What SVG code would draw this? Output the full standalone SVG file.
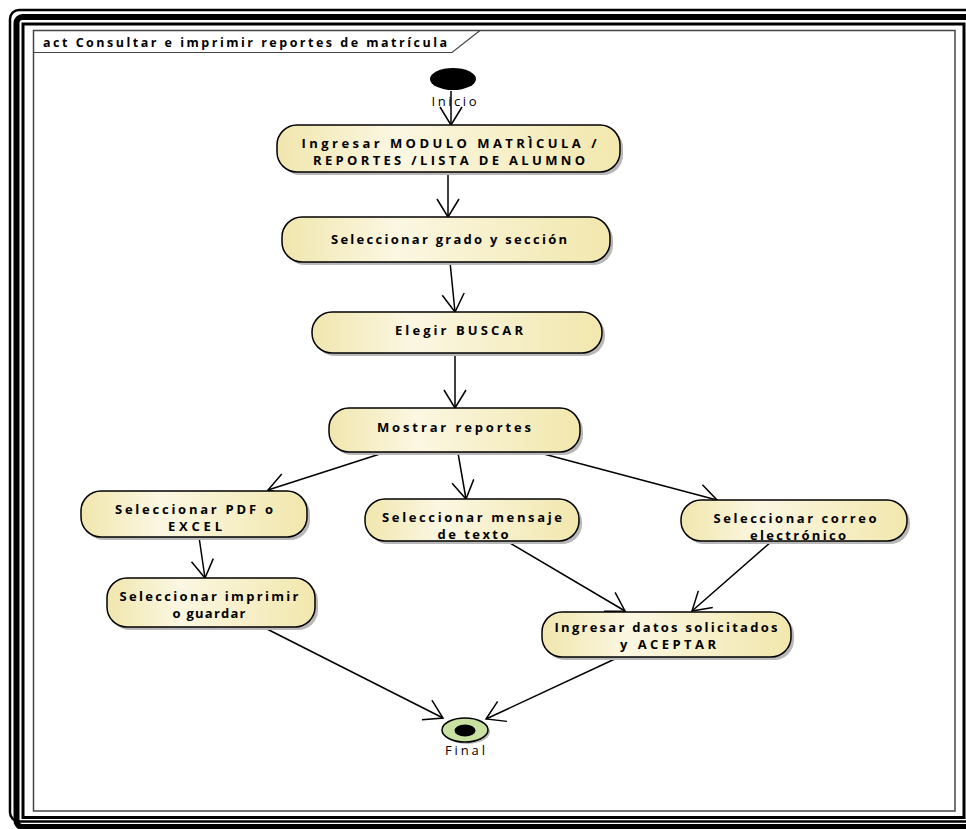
<svg xmlns="http://www.w3.org/2000/svg" width="966" height="829" viewBox="0 0 966 829">
<defs>
<linearGradient id="nodeFill" x1="0" y1="0" x2="1" y2="0">
<stop offset="0" stop-color="#f1e6ae"/>
<stop offset="0.35" stop-color="#fbf7e2"/>
<stop offset="1" stop-color="#f2e7ad"/>
</linearGradient>
<marker id="arrow" viewBox="-20 -13 22 26" markerWidth="22" markerHeight="26" refX="0" refY="0" orient="auto" markerUnits="userSpaceOnUse">
<path d="M-18,-11 L0,0 L-18,11" fill="none" stroke="#000" stroke-width="1.5"/>
</marker>
</defs>
<style>
.node{fill:url(#nodeFill);stroke:#000;stroke-width:1.5}
.shadow{fill:#b8b8b8}
.lbl{font-family:"Open Sans","Liberation Sans",Arial,sans-serif;font-weight:bold;font-size:13px;fill:#000;text-anchor:middle}
.plain{font-family:"Open Sans","Liberation Sans",Arial,sans-serif;font-size:13px;fill:#000;text-anchor:middle}
.edge{stroke:#000;stroke-width:1.5;fill:none;marker-end:url(#arrow)}
</style>
<rect width="966" height="829" fill="#fff"/>
<!-- page border -->
<g id="border" fill="none" stroke="#000">
<rect x="10" y="10" width="990" height="811.5" rx="9" stroke-width="2.5"/>
<rect x="16.5" y="17" width="990" height="810" rx="6" stroke-width="6"/>
<rect x="23" y="24" width="941" height="793.5" stroke-width="3"/>
</g>
<!-- frame -->
<g id="frame">
<rect x="33.5" y="30.5" width="921.5" height="780.5" fill="none" stroke="#444" stroke-width="1.5"/>
<path d="M33.5,52.5 H452 L480,30.5" fill="none" stroke="#444" stroke-width="1.2"/>
<text x="43" y="47" font-family="Open Sans,Liberation Sans,Arial,sans-serif" font-weight="bold" font-size="12.5" textLength="404" lengthAdjust="spacing">act Consultar e imprimir reportes de matrícula</text>
</g>
<!-- connectors -->
<g id="connectors">
<line class="edge" x1="451" y1="91" x2="451" y2="125"/>
<line class="edge" x1="448" y1="172" x2="448" y2="217"/>
<line class="edge" x1="450" y1="262" x2="455" y2="312"/>
<line class="edge" x1="455" y1="353" x2="455" y2="408"/>
<line class="edge" x1="383" y1="453" x2="268" y2="490"/>
<line class="edge" x1="458" y1="453" x2="466" y2="499"/>
<line class="edge" x1="540" y1="453" x2="717" y2="500"/>
<line class="edge" x1="199" y1="537" x2="205" y2="578"/>
<line class="edge" x1="505" y1="540" x2="625" y2="611"/>
<line class="edge" x1="771" y1="542" x2="692" y2="611"/>
<line class="edge" x1="265" y1="628" x2="443" y2="718"/>
<line class="edge" x1="617" y1="658" x2="486" y2="719"/>
</g>
<!-- start -->
<g id="inicio">
<ellipse cx="453" cy="79" rx="23" ry="11" fill="#000"/>
<text class="plain" x="454" y="106" textLength="45" lengthAdjust="spacing">Inicio</text>
</g>
<g id="n1">
<rect class="shadow" x="280" y="128" width="343" height="47" rx="20"/>
<rect class="node" x="277" y="125" width="343" height="47" rx="20"/>
<text class="lbl" x="449" y="148" textLength="295" lengthAdjust="spacing">Ingresar MODULO MATRÌCULA /</text>
<text class="lbl" x="449" y="165" textLength="272" lengthAdjust="spacing">REPORTES /LISTA DE ALUMNO</text>
</g>
<g id="n2">
<rect class="shadow" x="285" y="220" width="328" height="45" rx="20"/>
<rect class="node" x="282" y="217" width="328" height="45" rx="20"/>
<text class="lbl" x="449" y="244" textLength="236" lengthAdjust="spacing">Seleccionar grado y sección</text>
</g>
<g id="n3">
<rect class="shadow" x="315" y="315" width="290" height="41" rx="20"/>
<rect class="node" x="312" y="312" width="290" height="41" rx="20"/>
<text class="lbl" x="459" y="335" textLength="128" lengthAdjust="spacing">Elegir BUSCAR</text>
</g>
<g id="n4">
<rect class="shadow" x="332" y="411" width="251" height="44" rx="20"/>
<rect class="node" x="329" y="408" width="251" height="44" rx="20"/>
<text class="lbl" x="454" y="432" textLength="154" lengthAdjust="spacing">Mostrar reportes</text>
</g>
<g id="n5">
<rect class="shadow" x="84" y="494" width="226" height="46" rx="20"/>
<rect class="node" x="81" y="491" width="226" height="46" rx="20"/>
<text class="lbl" x="194" y="514" textLength="158" lengthAdjust="spacing">Seleccionar PDF o</text>
<text class="lbl" x="195" y="531" textLength="54" lengthAdjust="spacing">EXCEL</text>
</g>
<g id="n6">
<rect class="shadow" x="368" y="502" width="214" height="42" rx="20"/>
<rect class="node" x="365" y="499" width="214" height="42" rx="20"/>
<text class="lbl" x="472" y="522" textLength="180" lengthAdjust="spacing">Seleccionar mensaje</text>
<text class="lbl" x="473" y="539" textLength="71" lengthAdjust="spacing">de texto</text>
</g>
<g id="n7">
<rect class="shadow" x="684" y="503" width="226" height="41" rx="20"/>
<rect class="node" x="681" y="500" width="226" height="41" rx="20"/>
<text class="lbl" x="795" y="523" textLength="163" lengthAdjust="spacing">Seleccionar correo</text>
<text class="lbl" x="798" y="540" textLength="96" lengthAdjust="spacing">electrónico</text>
</g>
<g id="n8">
<rect class="shadow" x="110" y="581" width="208" height="49" rx="20"/>
<rect class="node" x="107" y="578" width="208" height="49" rx="20"/>
<text class="lbl" x="209" y="601" textLength="179" lengthAdjust="spacing">Seleccionar imprimir</text>
<text class="lbl" x="209" y="618" textLength="73" lengthAdjust="spacing">o guardar</text>
</g>
<g id="n9">
<rect class="shadow" x="545" y="615" width="249" height="45" rx="20"/>
<rect class="node" x="542" y="612" width="249" height="45" rx="20"/>
<text class="lbl" x="666" y="632" textLength="223" lengthAdjust="spacing">Ingresar datos solicitados</text>
<text class="lbl" x="668" y="649" textLength="96" lengthAdjust="spacing">y ACEPTAR</text>
</g>
<g id="final">
<ellipse cx="467" cy="732" rx="23" ry="12" fill="#bbb"/>
<ellipse cx="465" cy="730" rx="23" ry="12" fill="#c8e0a0" stroke="#000" stroke-width="1.5"/>
<ellipse cx="465" cy="730.5" rx="10.5" ry="6" fill="#000"/>
<text class="plain" x="465" y="755" textLength="40" lengthAdjust="spacing">Final</text>
</g>
</svg>
